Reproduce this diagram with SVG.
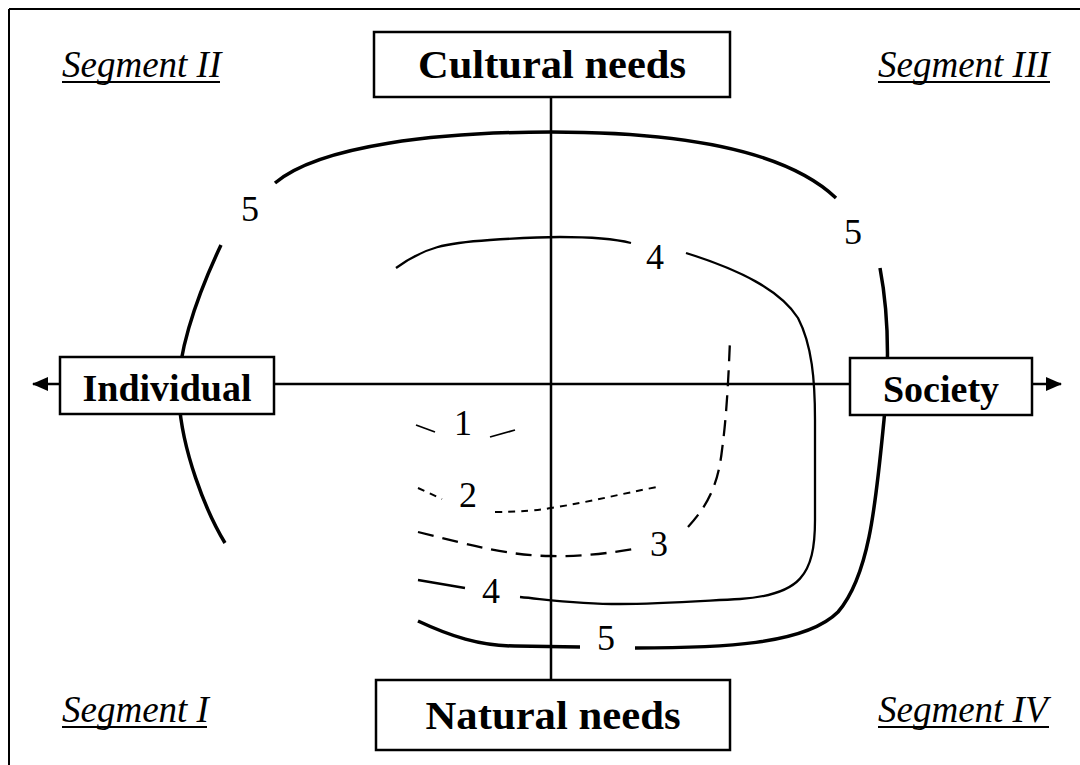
<svg xmlns="http://www.w3.org/2000/svg" width="1080" height="765" viewBox="0 0 1080 765">
<style>
.box{fill:#fff;stroke:#000;stroke-width:2.5}
.lbl{font-family:"Liberation Serif","Times New Roman",serif;font-weight:bold;fill:#000;text-anchor:middle}
.seg{font-family:"Liberation Serif","Times New Roman",serif;font-style:italic;font-size:37px;fill:#000}
.num{font-family:"Liberation Serif","Times New Roman",serif;font-size:36px;fill:#000;text-anchor:middle}
.ul{stroke:#000;stroke-width:2}
.c5{fill:none;stroke:#000;stroke-width:3.5}
.c4{fill:none;stroke:#000;stroke-width:2.3}
.c3{fill:none;stroke:#000;stroke-width:2.3;stroke-dasharray:16 9}
.c2{fill:none;stroke:#000;stroke-width:2;stroke-dasharray:7 6}
.c1{fill:none;stroke:#000;stroke-width:1.8}
.axis{fill:none;stroke:#000;stroke-width:2.5}
</style>
<defs>
<marker id="arr" markerUnits="userSpaceOnUse" markerWidth="16" markerHeight="14" refX="15" refY="7" orient="auto-start-reverse">
<path d="M0,0 L16,7 L0,14 z" fill="#000"/>
</marker>
</defs>
<rect width="1080" height="765" fill="#fff"/>
<g id="frame">
<line x1="9" y1="9" x2="1080" y2="9" stroke="#000" stroke-width="2"/>
<line x1="9" y1="9" x2="9" y2="765" stroke="#000" stroke-width="2"/>
</g>
<g id="connectors">
<line class="axis" x1="551" y1="97" x2="551" y2="680"/>
<line class="axis" x1="33" y1="384" x2="1061" y2="384" marker-start="url(#arr)" marker-end="url(#arr)"/>
</g>
<g id="curve5">
<path class="c5" d="M275,183 C320,145 440,132 551,132 C660,132 780,145 836,198"/>
<path class="c5" d="M221,245 C195,300 175,360 179,400 C182,450 205,510 225,543"/>
<path class="c5" d="M880,268 C888,310 890,360 884,420 C876,500 870,575 838,612 C805,645 720,648 635,648"/>
<path class="c5" d="M418,621 C450,636 480,646 515,646 L580,647"/>
<text class="num" x="250" y="221">5</text>
<text class="num" x="853" y="244">5</text>
<text class="num" x="606" y="650">5</text>
</g>
<g id="curve4">
<path class="c4" d="M396,268 C425,247 445,243 490,240 C520,238 540,237 560,237 C595,237 615,239 631,243"/>
<path class="c4" d="M686,253 C740,270 780,290 798,318 C812,345 815,380 815,420 L815,520 C815,575 800,595 740,599 C700,601 660,604 620,604 C580,604 560,601 520,597"/>
<path class="c4" d="M418,580 L465,588"/>
<text class="num" x="655" y="269">4</text>
<text class="num" x="491" y="603">4</text>
</g>
<g id="curve3">
<path class="c3" d="M418,532 C470,545 510,556 551,556 C580,557 610,553 633,549"/>
<path class="c3" d="M688,527 C708,505 718,485 722,450 C726,420 728,390 730,340"/>
<text class="num" x="659" y="556">3</text>
</g>
<g id="curve2">
<path class="c2" d="M418,488 L442,499"/>
<path class="c2" d="M495,512 C520,512 540,510 551,508 C590,502 620,494 657,487"/>
<text class="num" x="468" y="507">2</text>
</g>
<g id="curve1">
<path class="c1" d="M416,425 L435,432"/>
<path class="c1" d="M490,437 L515,430"/>
<text class="num" x="463" y="435">1</text>
</g>
<g id="cultural">
<rect class="box" x="374" y="32" width="356" height="65"/>
<text class="lbl" x="552" y="78" font-size="40" textLength="268" lengthAdjust="spacingAndGlyphs">Cultural needs</text>
</g>
<g id="natural">
<rect class="box" x="376" y="680" width="354" height="70"/>
<text class="lbl" x="553" y="729" font-size="40" textLength="255" lengthAdjust="spacingAndGlyphs">Natural needs</text>
</g>
<g id="individual">
<rect class="box" x="60" y="357" width="214" height="57"/>
<text class="lbl" x="167" y="401" font-size="38">Individual</text>
</g>
<g id="society">
<rect class="box" x="850" y="358" width="182" height="57"/>
<text class="lbl" x="941" y="402" font-size="38">Society</text>
</g>
<g id="segment2">
<text class="seg" x="62" y="77">Segment II</text>
<line class="ul" x1="62" y1="82" x2="220" y2="82"/>
</g>
<g id="segment3">
<text class="seg" x="878" y="77">Segment III</text>
<line class="ul" x1="878" y1="82" x2="1050" y2="82"/>
</g>
<g id="segment1">
<text class="seg" x="62" y="722">Segment I</text>
<line class="ul" x1="62" y1="727" x2="207" y2="727"/>
</g>
<g id="segment4">
<text class="seg" x="878" y="722">Segment IV</text>
<line class="ul" x1="878" y1="727" x2="1049" y2="727"/>
</g>
</svg>
